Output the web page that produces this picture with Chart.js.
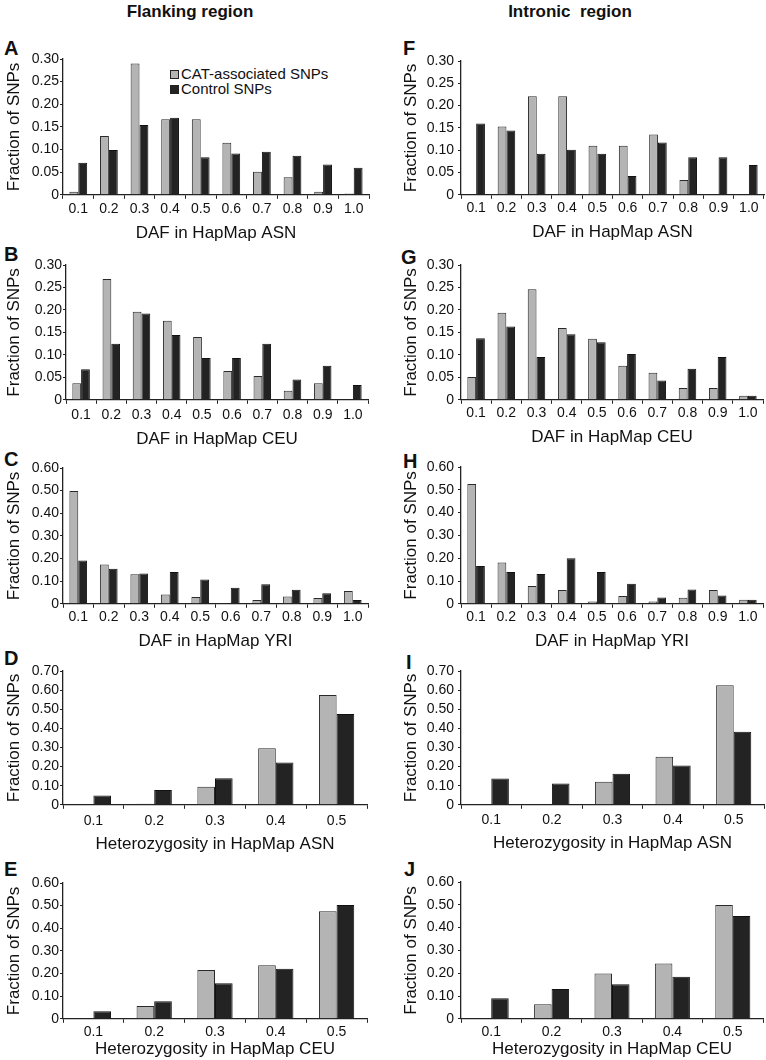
<!DOCTYPE html>
<html><head><meta charset="utf-8">
<script src="https://cdn.jsdelivr.net/npm/chart.js@4.4.1/dist/chart.umd.min.js"></script>
<style>
html,body{margin:0;padding:0;background:#fff}
body{width:766px;height:1060px;overflow:hidden;position:relative;font-family:"Liberation Sans",Arial,sans-serif;color:#111}
canvas{position:absolute}
.hdr{position:absolute;top:3px;font-weight:bold;font-size:17px;line-height:17px;white-space:pre;text-align:center}
.lt{position:absolute;font-weight:bold;font-size:20px;line-height:20px}
.leg{position:absolute;font-size:15px;line-height:16px;white-space:nowrap}
.leg span.box{position:absolute;left:0;width:7px;height:7px;border:1px solid #222}
.leg span.txt{position:absolute;left:11px;top:0}
</style>
</head><body>
<div class="hdr" style="left:0;width:380px">Flanking region</div>
<div class="hdr" style="left:383px;width:374px">Intronic  region</div>
<div id="letters"></div>
<div class="leg" style="left:170px;top:66px;width:170px;height:32px">
  <div style="position:relative;height:15px"><span class="box" style="top:4px;background:#b4b4b4"></span><span class="txt">CAT-associated SNPs</span></div>
  <div style="position:relative;height:15px"><span class="box" style="top:4px;background:#232323"></span><span class="txt">Control SNPs</span></div>
</div>
<script>
// ---------- data ----------
const DAF_LABELS = ['0.1','0.2','0.3','0.4','0.5','0.6','0.7','0.8','0.9','1.0'];
const HET_LABELS = ['0.1','0.2','0.3','0.4','0.5'];
const SERIES_NAMES = ['CAT-associated SNPs','Control SNPs'];
const Y_TICKS_030 = [0,0.05,0.10,0.15,0.20,0.25,0.30];
const Y_TICKS_060 = [0,0.10,0.20,0.30,0.40,0.50,0.60];
const Y_TICKS_070 = [0,0.10,0.20,0.30,0.40,0.50,0.60,0.70];

const A_cat = [0.007,0.130,0.290,0.167,0.167,0.115,0.051,0.039,0.007,0.003];
const A_ctl = [0.071,0.099,0.154,0.170,0.083,0.091,0.095,0.086,0.067,0.060];
const B_cat = [0.037,0.269,0.196,0.176,0.140,0.064,0.053,0.020,0.037,0];
const B_ctl = [0.068,0.125,0.192,0.144,0.093,0.093,0.125,0.045,0.076,0.033];
const C_cat = [0.498,0.174,0.131,0.041,0.030,0,0.017,0.032,0.026,0.057];
const C_ctl = [0.191,0.155,0.134,0.141,0.107,0.071,0.086,0.062,0.047,0.017];
const D_cat = [0.002,0.005,0.095,0.296,0.574];
const D_ctl = [0.049,0.077,0.139,0.221,0.475];
const E_cat = [0.003,0.057,0.216,0.237,0.475];
const E_ctl = [0.033,0.078,0.157,0.221,0.503];
const F_cat = [0,0.153,0.221,0.221,0.110,0.110,0.135,0.033,0,0];
const F_ctl = [0.160,0.144,0.092,0.101,0.092,0.042,0.117,0.084,0.084,0.067];
const G_cat = [0.051,0.194,0.246,0.160,0.136,0.076,0.060,0.026,0.026,0.009];
const G_ctl = [0.137,0.163,0.095,0.146,0.128,0.102,0.043,0.069,0.095,0.009];
const H_cat = [0.525,0.181,0.078,0.060,0.010,0.034,0.010,0.027,0.061,0.018];
const H_ctl = [0.166,0.140,0.131,0.200,0.140,0.088,0.028,0.063,0.036,0.018];
const I_cat = [0,0,0.121,0.251,0.626];
const I_ctl = [0.137,0.112,0.163,0.205,0.382];
const J_cat = [0,0.064,0.199,0.243,0.499];
const J_ctl = [0.090,0.131,0.151,0.184,0.451];

const PANELS = [
  {id:'A', labels:DAF_LABELS, cat:A_cat, ctl:A_ctl, yTicks:Y_TICKS_030, xTitle:'DAF in HapMap ASN'},
  {id:'B', labels:DAF_LABELS, cat:B_cat, ctl:B_ctl, yTicks:Y_TICKS_030, xTitle:'DAF in HapMap CEU'},
  {id:'C', labels:DAF_LABELS, cat:C_cat, ctl:C_ctl, yTicks:Y_TICKS_060, xTitle:'DAF in HapMap YRI'},
  {id:'D', labels:HET_LABELS, cat:D_cat, ctl:D_ctl, yTicks:Y_TICKS_070, xTitle:'Heterozygosity in HapMap ASN'},
  {id:'E', labels:HET_LABELS, cat:E_cat, ctl:E_ctl, yTicks:Y_TICKS_060, xTitle:'Heterozygosity in HapMap CEU'},
  {id:'F', labels:DAF_LABELS, cat:F_cat, ctl:F_ctl, yTicks:Y_TICKS_030, xTitle:'DAF in HapMap ASN'},
  {id:'G', labels:DAF_LABELS, cat:G_cat, ctl:G_ctl, yTicks:Y_TICKS_030, xTitle:'DAF in HapMap CEU'},
  {id:'H', labels:DAF_LABELS, cat:H_cat, ctl:H_ctl, yTicks:Y_TICKS_060, xTitle:'DAF in HapMap YRI'},
  {id:'I', labels:HET_LABELS, cat:I_cat, ctl:I_ctl, yTicks:Y_TICKS_070, xTitle:'Heterozygosity in HapMap ASN'},
  {id:'J', labels:HET_LABELS, cat:J_cat, ctl:J_ctl, yTicks:Y_TICKS_060, xTitle:'Heterozygosity in HapMap CEU'}
];

// ---------- layout (positions / styles) ----------
const LAYOUT = {
  A:{x0:0,  w:380, L:63,  T:59,  R:369, B:194,  tk:14, tt:39, lx:4,   ly:41},
  B:{x0:0,  w:380, L:66,  T:265, R:368, B:399,  tk:15, tt:40, lx:4,   ly:247},
  C:{x0:0,  w:380, L:63,  T:468, R:368, B:603,  tk:13, tt:38, lx:4,   ly:452},
  D:{x0:0,  w:380, L:63,  T:671, R:367, B:804,  tk:16, tt:40, lx:4,   ly:651},
  E:{x0:0,  w:380, L:63,  T:883, R:367, B:1018, tk:13, tt:31, lx:4,   ly:862},
  F:{x0:383,w:383, L:461, T:61,  R:764, B:194,  tk:13, tt:38, lx:403, ly:41},
  G:{x0:383,w:383, L:461, T:265, R:763, B:399,  tk:13, tt:38, lx:401, ly:250},
  H:{x0:383,w:383, L:461, T:467, R:763, B:603,  tk:13, tt:38, lx:403, ly:454},
  I:{x0:383,w:383, L:461, T:671, R:764, B:804,  tk:15, tt:39, lx:406, ly:655},
  J:{x0:383,w:383, L:461, T:882, R:763, B:1018, tk:13, tt:31, lx:404, ly:862}
};
const FONT = '"Liberation Sans", Arial, sans-serif';
const AXIS_COLOR = '#222';
const PAD_TOP = 12;

const lettersDiv = document.getElementById('letters');

PANELS.forEach(p => {
  const g = LAYOUT[p.id];
  const xH = g.tt + 10.2;
  const cv = document.createElement('canvas');
  const h = Math.ceil(PAD_TOP + (g.B - g.T) + xH);
  cv.width = g.w; cv.height = h;
  cv.style.left = g.x0 + 'px';
  cv.style.top = (g.T - PAD_TOP) + 'px';
  cv.style.width = g.w + 'px'; cv.style.height = h + 'px';
  document.body.appendChild(cv);

  const lt = document.createElement('div');
  lt.className = 'lt';
  lt.textContent = p.id;
  lt.style.left = g.lx + 'px';
  lt.style.top = (g.ly - 2.7) + 'px';
  lettersDiv.appendChild(lt);

  const isLeft = (g.x0 === 0);
  const yTitlePad = isLeft ? 4 : 18;
  const ticksArr = p.yTicks;

  new Chart(cv, {
    type: 'bar',
    data: {
      labels: p.labels,
      datasets: [
        {label: SERIES_NAMES[0], data: p.cat, backgroundColor: '#b4b4b4', borderColor: '#2a2a2a', borderWidth: 1},
        {label: SERIES_NAMES[1], data: p.ctl, backgroundColor: '#232323', borderColor: '#111', borderWidth: 1}
      ]
    },
    options: {
      responsive: false,
      maintainAspectRatio: false,
      animation: false,
      devicePixelRatio: 1,
      categoryPercentage: 0.58,
      barPercentage: 1.0,
      layout: {padding: {top: PAD_TOP, left: 0, bottom: 0, right: (g.x0 + g.w) - g.R}},
      plugins: {legend: {display: false}, tooltip: {enabled: false}},
      scales: {
        x: {
          grid: {offset: true, drawOnChartArea: false, drawTicks: true, tickLength: 4, color: AXIS_COLOR, lineWidth: 1},
          border: {display: true, color: AXIS_COLOR, width: 1.3},
          ticks: {padding: Math.max(0, g.tk - 4 - 8.4), font: {size: 14, family: FONT}, color: '#111', maxRotation: 0, autoSkip: false},
          title: {display: true, text: p.xTitle, font: {size: 17, family: FONT}, color: '#111', padding: {top: 0, bottom: 0}},
          afterFit: s => { s.height = xH; }
        },
        y: {
          min: 0, max: ticksArr[ticksArr.length - 1],
          grid: {drawOnChartArea: false, drawTicks: true, tickLength: 3, color: AXIS_COLOR, lineWidth: 1},
          border: {display: true, color: AXIS_COLOR, width: 1.3},
          afterBuildTicks: s => { s.ticks = ticksArr.map(v => ({value: v})); },
          ticks: {padding: isLeft ? 1 : 4, autoSkip: false, font: {size: 14, family: FONT, lineHeight: 1}, color: '#111',
                  callback: v => (v === 0 ? '0' : Number(v).toFixed(2))},
          title: {display: true, text: 'Fraction of SNPs', font: {size: 17, family: FONT}, color: '#111', padding: {top: yTitlePad, bottom: 0}},
          afterFit: s => { s.width = g.L - g.x0; }
        }
      }
    }
  });
});
</script>
</body></html>
